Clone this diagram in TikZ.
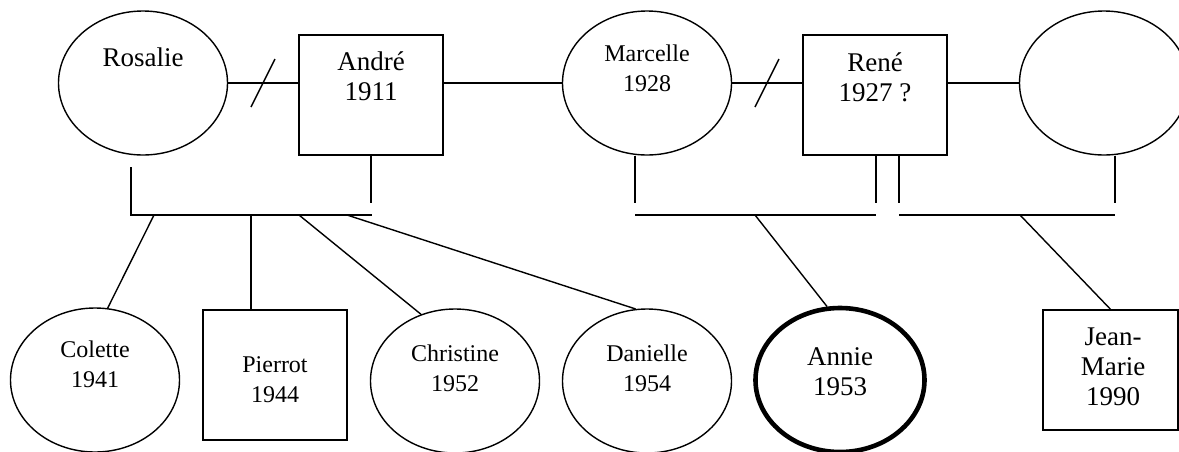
\documentclass[tikz,border=0pt]{standalone}
\usepackage{fontspec}
\setmainfont{Liberation Serif}
\usetikzlibrary{shapes.geometric}

\begin{document}
\begin{tikzpicture}[x=0.5pt,y=-0.5pt,line width=0.7pt,
    female/.style={draw,ellipse,minimum width=84.5pt,minimum height=72pt,inner sep=0pt},
    male/.style={draw,rectangle,minimum width=72pt,minimum height=60pt,inner sep=0pt},
    who/.style={align=center,inner sep=0pt,font=\fontsize{12}{15}\selectfont},
    whobig/.style={who,font=\fontsize{13.5}{15}\selectfont}]
    \useasboundingbox (0,0) rectangle (1179,451);

    % Parents
    \node[female] (rosalie) at (143,83) {};
    \node[male] (andre) at (371,95) {};
    \node[female] (marcelle) at (647,83) {};
    \node[male] (rene) at (875,95) {};
    \node[female] (other) at (1104,83) {};

    % Children
    \node[female] (colette) at (95,380) {};
    \node[male,minimum height=65pt] (pierrot) at (275,375) {};
    \node[female] (christine) at (455,381) {};
    \node[female] (danielle) at (647,381) {};
    \node[female,line width=2.3pt] (annie) at (840,380) {};
    \node[male,minimum width=67.5pt] (jeanmarie) at (1110.5,370) {};

    % Names
    \node[whobig] (rosalie-t) at (143,57) {Rosalie};
    \node[whobig] (andre-t) at (371,76) {André\\1911};
    \node[who] (marcelle-t) at (647,68) {Marcelle\\1928};
    \node[whobig] (rene-t) at (875,77) {René\\1927 ?};
    \node[who] (colette-t) at (95,364) {Colette\\1941};
    \node[who] (pierrot-t) at (275,380) {Pierrot\\1944};
    \node[who] (christine-t) at (455,368) {Christine\\1952};
    \node[who] (danielle-t) at (647,368) {Danielle\\1954};
    \node[whobig] (annie-t) at (840,372) {Annie\\1953};
    \node[whobig] (jeanmarie-t) at (1113,367) {Jean-\\Marie\\1990};

    % Couples
    \draw (rosalie.east) -- (rosalie.east -| andre.west);
    \draw (marcelle.west -| andre.east) -- (marcelle.west);
    \draw (marcelle.east) -- (marcelle.east -| rene.west);
    \draw (other.west -| rene.east) -- (other.west);

    % Divorce marks
    \coordinate (div1) at (263,83);
    \coordinate (div2) at (767,83);
    \draw ([shift={(-12,24)}]div1) -- ([shift={(12,-24)}]div1);
    \draw ([shift={(-12,24)}]div2) -- ([shift={(12,-24)}]div2);

    % Sibship lines
    \coordinate (a1) at (131,167); \coordinate (a2) at (131,215); \coordinate (a3) at (372,215); \coordinate (a4) at (371,203);
    \coordinate (b1) at (635,203); \coordinate (b2) at (635,215); \coordinate (b3) at (876,215); \coordinate (b4) at (876,203);
    \coordinate (c1) at (899,203); \coordinate (c2) at (899,215); \coordinate (c3) at (1115,215); \coordinate (c4) at (1115,203);
    \draw (a1) -- (a2) -- (a3);
    \draw (andre.south) -- (a4);
    \draw (marcelle.south -| b1) -- (b1);
    \draw (b2) -- (b3);
    \draw (rene.south -| b4) -- (b4);
    \draw (rene.south -| c1) -- (c1);
    \draw (c2) -- (c3);
    \draw (other.south -| c4) -- (c4);

    % Descent
    \coordinate (d1) at (154,215); \coordinate (d2) at (251,215); \coordinate (d3) at (299,215); \coordinate (d4) at (347,215);
    \coordinate (d5) at (755,215); \coordinate (d6) at (1020,215);
    \draw (d1) -- (colette.80);
    \draw (d2) -- (d2 |- pierrot.north);
    \draw (d3) -- (christine.117);
    \draw (d4) -- (danielle.99);
    \draw (d5) -- (annie.100);
    \draw (d6) -- (jeanmarie.north);

\end{tikzpicture}
\end{document}
